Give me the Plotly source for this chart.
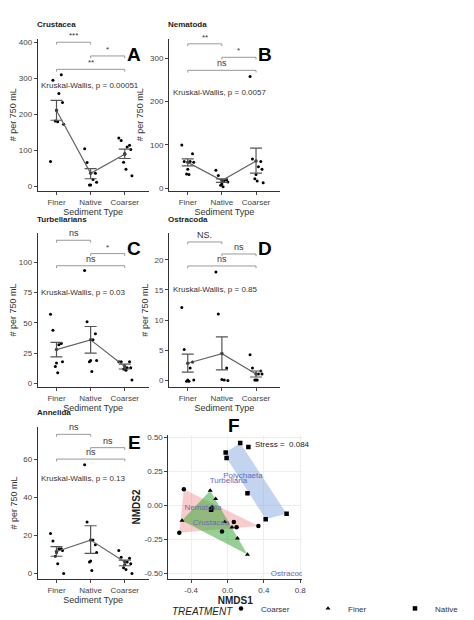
import plotly.graph_objects as go

cats = ["Finer", "Native", "Coarser"]
panels = [
 dict(name="Crustacea", letter="A", kw="Kruskal-Wallis, p = 0.00051", kwy=280, rng=[-12, 410], ticks=[0,100,200,300,400],
      pts=[[70,295,310,258,233,212,182,180,173],[105,67,37,20,12,5,5],[135,128,115,110,103,92,68,48,30]],
      mean=[211,37,90], lo=[184,22,78], hi=[239,50,104],
      br=[(1,2,400,"***"),(2,3,362,"*"),(1,3,325,"**")]),
 dict(name="Nematoda", letter="B", kw="Kruskal-Wallis, p = 0.0057", kwy=220, rng=[-6, 345], ticks=[0,100,200,300],
      pts=[[100,62,80,62,60,44,33,32],[42,30,20,18,15,10,7,4],[258,68,62,50,44,32,22,17,13]],
      mean=[60,18,63], lo=[52,14,35], hi=[68,22,93],
      br=[(1,2,333,"**"),(2,3,302,"*"),(1,3,272,"ns")]),
 dict(name="Turbellarians", letter="C", kw="Kruskal-Wallis, p = 0.03", kwy=75, rng=[-3, 124], ticks=[0,25,50,75,100],
      pts=[[57,44,33,32,18,17,14,9],[93,51,41,36,19,19,18,10],[18,18,18,13,13,12,12,11,3]],
      mean=[28,36,14], lo=[22,25,12], hi=[34,47,16],
      br=[(1,2,118,"ns"),(2,3,107,"*"),(1,3,97,"ns")]),
 dict(name="Ostracoda", letter="D", kw="Kruskal-Wallis, p = 0.85", kwy=15, rng=[-1.2, 24.5], ticks=[0,5,10,15,20],
      pts=[[12.1,5.1,3,2,0,0,-0.2,-0.2],[18,11,2,0,-0.1,0.1],[4.2,2,1.5,1,1,0,0,0]],
      mean=[2.8,4.4,1.0], lo=[1.3,1.7,0.5], hi=[4.3,7.2,1.5],
      br=[(1,2,23,"NS."),(2,3,21,"ns"),(1,3,19,"ns")]),
 dict(name="Annelida", letter="E", kw="Kruskal-Wallis, p = 0.13", kwy=50, rng=[-3, 77], ticks=[0,20,40,60],
      pts=[[21,17,13,13,12,11,9,5,0],[57,27,15,17.5,11,6.5,6,1.5],[12,8.5,8,6,5,4.5,3,2,0]],
      mean=[11.5,17.5,6], lo=[9,10.5,4], hi=[14,25,7],
      br=[(1,2,73,"ns"),(2,3,66,"ns"),(1,3,60,"ns")]),
]
jit = [-0.25,-0.15,0.2,0.1,0.25,0.0,-0.05,0.05,0.3]

nmds_coarser_x = [-0.53,-0.48,0.07,0.10,0.34,-0.06,-0.17]
nmds_coarser_y = [-0.20,0.12,-0.12,-0.16,-0.15,-0.19,-0.02]
nmds_finer_x = [-0.50,-0.19,-0.13,-0.03,0.05,0.11,0.22,-0.17]
nmds_finer_y = [-0.11,0.11,0.05,-0.12,-0.16,-0.24,-0.36,-0.01]
nmds_native_x = [-0.02,-0.01,0.14,0.23,0.22,0.42,0.65,-0.18]
nmds_native_y = [0.39,0.35,0.46,0.43,0.09,-0.10,-0.06,-0.03]
hull_c = ([-0.48,0.34,-0.53], [0.12,-0.15,-0.20])
hull_f = ([-0.50,-0.19,0.22], [-0.11,0.11,-0.36])
hull_n = ([-0.02,0.14,0.65,0.42,-0.01], [0.39,0.46,-0.06,-0.10,0.35])
species = ["Polychaeta","Turbellaria","Nematoda","Crustacea","Ostracoda"]
sp_x = [0.17,0.01,-0.27,-0.18,0.68]
sp_y = [0.22,0.18,-0.02,-0.13,-0.50]

F = "Liberation Sans, Arial"
fig = go.Figure()
xd = [(0.076,0.447),(0.515,0.886)]
yd = [(0.705,0.952),(0.387,0.637),(0.076,0.323)]
ann = []; shapes = []
for i, p in enumerate(panels):
    n = i+1; xa = "x" if n==1 else f"x{n}"; ya = "y" if n==1 else f"y{n}"
    r, c = divmod(i, 2)
    for k in range(3):
        xs = [k+1+jit[j]*0.7 for j in range(len(p["pts"][k]))]
        fig.add_trace(go.Scatter(x=xs, y=p["pts"][k], mode="markers", marker=dict(color="black", size=3),
                                 xaxis=xa, yaxis=ya, showlegend=False))
    fig.add_trace(go.Scatter(x=[1,2,3], y=p["mean"], mode="lines+markers", line=dict(color="#666", width=1.2),
        marker=dict(color="#444", size=3.5),
        error_y=dict(type="data", symmetric=False, array=[h-m for h,m in zip(p["hi"],p["mean"])],
                     arrayminus=[m-l for l,m in zip(p["lo"],p["mean"])], color="#555", thickness=1.2, width=6),
        xaxis=xa, yaxis=ya, showlegend=False))
    span = p["rng"][1]-p["rng"][0]
    for (a, b, yv, t) in p["br"]:
        d = span*0.015
        shapes.append(dict(type="path", xref=xa, yref=ya, path=f"M {a},{yv-d} L {a},{yv} L {b},{yv} L {b},{yv-d}",
                           line=dict(color="#999", width=1)))
        ann.append(dict(x=(a+b)/2, y=yv, xref=xa, yref=ya, text=t, showarrow=False, yanchor="bottom",
                        font=dict(size=9 if t in ("ns","NS.") else 8, color="#333", family=F)))
    ann.append(dict(x=0.5, y=p["kwy"], xref=xa, yref=ya, text=p["kw"], showarrow=False, xanchor="left",
                    font=dict(size=8, color="#333", family=F)))
    ann.append(dict(x=xd[c][0]-0.01, y=yd[r][1]+0.012, xref="paper", yref="paper", text=f"<b>{p['name']}</b>",
                    showarrow=False, xanchor="left", yanchor="bottom", font=dict(size=8, color="#222", family=F)))
    ann.append(dict(x=xd[c][1]-0.02, y=yd[r][1]-0.005, xref="paper", yref="paper", text=f"<b>{p['letter']}</b>",
                    showarrow=False, xanchor="right", yanchor="top", font=dict(size=19, color="black", family=F)))
    fig.layout[("xaxis" if n==1 else f"xaxis{n}")] = dict(domain=xd[c], anchor=ya, range=[0.45,3.7],
        tickvals=[1,2,3], ticktext=cats, showline=True, linecolor="#333", ticks="outside", ticklen=3,
        showgrid=False, zeroline=False, tickfont=dict(size=8, color="#444"),
        title=dict(text="Sediment Type", font=dict(size=9, color="#333"), standoff=2))
    fig.layout[("yaxis" if n==1 else f"yaxis{n}")] = dict(domain=yd[r], anchor=xa, range=p["rng"],
        tickvals=p["ticks"], showline=True, linecolor="#333", ticks="outside", ticklen=3,
        showgrid=False, zeroline=False, tickfont=dict(size=8, color="#444"),
        title=dict(text="# per 750 mL", font=dict(size=9, color="#333"), standoff=4))

for hx, hy, col in [(hull_c[0],hull_c[1],"rgba(240,128,128,0.4)"),(hull_f[0],hull_f[1],"rgba(60,170,60,0.55)"),
                    (hull_n[0],hull_n[1],"rgba(120,160,220,0.45)")]:
    fig.add_trace(go.Scatter(x=hx+hx[:1], y=hy+hy[:1], fill="toself", fillcolor=col, mode="none",
                             xaxis="x6", yaxis="y6", showlegend=False, hoverinfo="skip"))
for nm, sx, sy, sym in [("Coarser",nmds_coarser_x,nmds_coarser_y,"circle"),("Finer",nmds_finer_x,nmds_finer_y,"triangle-up"),
                        ("Native",nmds_native_x,nmds_native_y,"square")]:
    fig.add_trace(go.Scatter(x=sx, y=sy, mode="markers", name=nm, marker=dict(color="black", size=4.5, symbol=sym),
                             xaxis="x6", yaxis="y6"))
fig.add_trace(go.Scatter(x=sp_x, y=sp_y, mode="text", text=species, textfont=dict(size=8, color="#6a6ab4", family=F),
                         xaxis="x6", yaxis="y6", showlegend=False))
ann.append(dict(x=0.6, y=0.45, xref="x6", yref="y6", text="Stress =  0.084", showarrow=False, xanchor="center",
                font=dict(size=8, color="#222", family=F)))
ann.append(dict(x=0.76, y=0.345, xref="paper", yref="paper", text="<b>F</b>", showarrow=False, yanchor="top",
                font=dict(size=19, color="black", family=F)))
ann.append(dict(x=0.52, y=0.012, xref="paper", yref="paper", text="<i>TREATMENT</i>", showarrow=False, xanchor="left",
                font=dict(size=10, color="#222", family=F), yanchor="bottom"))
fig.layout.xaxis6 = dict(domain=[0.513,0.96], anchor="y6", range=[-0.65,0.82], tickvals=[-0.4,0,0.4,0.8],
    ticktext=["-0.4","0.0","0.4","0.8"], showline=True, linecolor="#333", ticks="outside", ticklen=3,
    gridcolor="#eee", zeroline=False, tickfont=dict(size=8, color="#444"),
    title=dict(text="<b>NMDS1</b>", font=dict(size=10, color="#222"), standoff=2))
fig.layout.yaxis6 = dict(domain=[0.076,0.31], anchor="x6", range=[-0.54,0.52], tickvals=[-0.5,-0.25,0,0.25,0.5],
    ticktext=["-0.50","-0.25","0.00","0.25","0.50"], showline=True, linecolor="#333", ticks="outside", ticklen=3,
    gridcolor="#eee", zeroline=False, tickfont=dict(size=8, color="#444"),
    title=dict(text="<b>NMDS2</b>", font=dict(size=10, color="#222"), standoff=2))
fig.update_layout(width=474, height=620, margin=dict(l=0, r=0, t=0, b=0), plot_bgcolor="white", paper_bgcolor="white",
    font=dict(family=F), annotations=ann, shapes=shapes,
    legend=dict(orientation="h", x=0.69, y=0.005, xanchor="left", yanchor="bottom", font=dict(size=8, color="#333"),
                itemwidth=30, entrywidth=42, entrywidthmode="pixels", tracegroupgap=0, bgcolor="rgba(0,0,0,0)"))
fig.write_html("out.html")
